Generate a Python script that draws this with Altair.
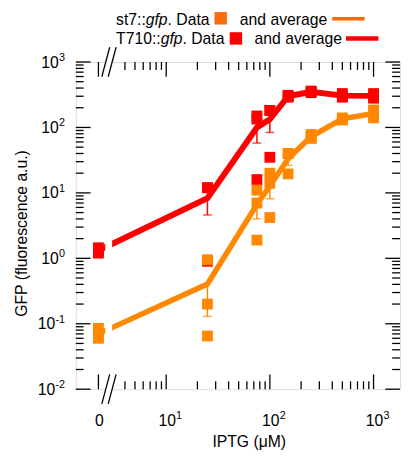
import altair as alt
import pandas as pd

# ---------------- data ----------------
IPTG = [0, 25, 75, 100, 150, 250, 500, 1000]          # µM
ST7_REP1 = [0.085, 0.95, 11.0, 20.0, 40.0, 72.0, 130.0, 185.0]
ST7_REP2 = [0.065, 0.20, 7.0, 14.0, 40.0, 78.0, 140.0, 165.0]
ST7_REP3 = [0.060, 0.065, 1.9, 4.2, 19.5, 68.0, 135.0, 140.0]
T710_REP1 = [1.45, 12.0, 134.0, 182.0, 290.0, 350.0, 330.0, 330.0]
T710_REP2 = [1.30, 12.0, 150.0, 182.0, 310.0, 340.0, 290.0, 280.0]
T710_REP3 = [1.20, 0.9, 16.0, 35.0, 300.0, 360.0, 300.0, 300.0]

X_TICK_VALUES = [0, 10, 100, 1000]
X_TICK_BASE = ["0", "10", "10", "10"]
X_TICK_EXP = ["", "1", "2", "3"]
Y_TICK_VALUES = [0.01, 0.1, 1, 10, 100, 1000]
Y_TICK_BASE = ["10", "10", "10", "10", "10", "10"]
Y_TICK_EXP = ["-2", "-1", "0", "1", "2", "3"]

ORANGE = "#FF8800"
RED = "#FF0000"

# ---------------- layout ----------------
W, H = 330, 333
ZERO_POS = 2.22                     # where "0" sits on the broken log axis
X_DOMAIN = [1.343, 1800]
Y_DOMAIN = [0.01, 1000]
FONT = "Liberation Sans"
MAJ, MIN = 15, 8
FS, ES = 16, 11                      # label font size, exponent font size

rows = []
for strain, reps in (("T710", [T710_REP1, T710_REP2, T710_REP3]),
                     ("st7", [ST7_REP1, ST7_REP2, ST7_REP3])):
    for rep in reps:
        for x, v in zip(IPTG, rep):
            rows.append({"strain": strain, "iptg": x, "gfp": v})
df = pd.DataFrame(rows)

xs = alt.Scale(type="log", domain=X_DOMAIN)
ys = alt.Scale(type="log", domain=Y_DOMAIN)

x_axis = alt.Axis(
    labels=False, ticks=False, domain=False, grid=False,
    title="IPTG (μM)", titleFontSize=16, titleFontWeight="normal", titleFont=FONT,
    titleColor="black", titleX=176, titleY=58.5, titleBaseline="alphabetic",
)
y_axis = alt.Axis(
    labels=False, ticks=False, domain=False, grid=False,
    title="GFP (fluorescence a.u.)", titleFontSize=16, titleFontWeight="normal",
    titleFont=FONT, titleColor="black", titleX=-50, titleY=174,
    titleBaseline="alphabetic", titleAngle=-90, titleAlign="center",
)


def X(field):
    return alt.X(field, type="quantitative", scale=xs, axis=x_axis)


def Y(field):
    return alt.Y(field, type="quantitative", scale=ys, axis=y_axis)


base = alt.Chart(df).transform_calculate(
    xpos=f"datum.iptg == 0 ? {ZERO_POS} : datum.iptg"
)

layers = []
for strain, color, lw in (("T710", RED, 6), ("st7", ORANGE, 5.5)):
    sub = base.transform_filter(alt.datum.strain == strain)
    agg = sub.transform_aggregate(
        mean="mean(gfp)", sem="stderr(gfp)", groupby=["xpos"]
    ).transform_calculate(lower="datum.mean - datum.sem")
    layers.append(sub.mark_square(size=121, color=color, opacity=1, filled=True)
                  .encode(x=X("xpos"), y=Y("gfp")))
    layers.append(agg.mark_line(color=color, strokeWidth=lw)
                  .encode(x=X("xpos"), y=Y("mean")))
    layers.append(agg.mark_rule(color=color, strokeWidth=1.5)
                  .encode(x=X("xpos"), y=Y("lower"), y2="mean:Q"))
    layers.append(agg.mark_tick(color=color, orient="horizontal", size=9, thickness=1.5)
                  .encode(x=X("xpos"), y=Y("lower")))

# ---------------- inward axis ticks ----------------
y_major = Y_TICK_VALUES
y_minor = [m * 10 ** e for e in range(-2, 3) for m in range(2, 10)]
x_major = [ZERO_POS if v == 0 else v for v in X_TICK_VALUES]
x_minor = [m * 10 ** e for e in range(0, 3) for m in range(2, 10) if m * 10 ** e > 3]

for vals, ln in ((y_major, MAJ), (y_minor, MIN)):
    c = alt.Chart(pd.DataFrame({"v": vals}))
    layers.append(c.mark_rule(color="black", strokeWidth=1.3)
                  .encode(y=Y("v"), x=alt.value(0), x2=alt.value(ln)))
    layers.append(c.mark_rule(color="black", strokeWidth=1.3)
                  .encode(y=Y("v"), x=alt.value(W - ln), x2=alt.value(W)))
for vals, ln in ((x_major, MAJ), (x_minor, MIN)):
    c = alt.Chart(pd.DataFrame({"v": vals}))
    layers.append(c.mark_rule(color="black", strokeWidth=1.3)
                  .encode(x=X("v"), y=alt.value(0), y2=alt.value(ln)))
    layers.append(c.mark_rule(color="black", strokeWidth=1.3)
                  .encode(x=X("v"), y=alt.value(H - ln), y2=alt.value(H)))

# ---------------- tick labels (base + superscript) ----------------
xl = alt.Chart(pd.DataFrame({"v": x_major, "b": X_TICK_BASE, "e": X_TICK_EXP}))
layers.append(xl.mark_text(align="center", baseline="alphabetic", fontSize=FS, font=FONT,
                           color="black", dx=1).encode(
    x=X("v"), y=alt.value(H + 37), text="b:N"))
layers.append(xl.mark_text(align="left", baseline="alphabetic", fontSize=ES, font=FONT,
                           color="black", dx=10).encode(
    x=X("v"), y=alt.value(H + 30.5), text="e:N"))

yl = alt.Chart(pd.DataFrame({"v": Y_TICK_VALUES, "b": Y_TICK_BASE, "e": Y_TICK_EXP})
               ).transform_calculate(n="length(datum.e)")
layers.append(yl.mark_text(align="right", baseline="alphabetic", fontSize=ES, font=FONT,
                           color="black", dy=-1).encode(
    y=Y("v"), x=alt.value(-11), text="e:N"))
for n, xpos in ((1, -17.3), (2, -21)):
    layers.append(yl.transform_filter(alt.datum.n == n).mark_text(
        align="right", baseline="alphabetic", fontSize=FS, font=FONT, color="black",
        dy=5.7).encode(y=Y("v"), x=alt.value(xpos), text="b:N"))

# ---------------- axis break ----------------
one = alt.Chart(pd.DataFrame({"k": [0]}))
layers.append(one.mark_rect(color="white").encode(
    x=alt.value(30), x2=alt.value(37), y=alt.value(-2), y2=alt.value(H + 2)))
for cy in (0, H):
    for cx in (30.5, 37):
        layers.append(one.mark_rule(color="black", strokeWidth=1.3).encode(
            x=alt.value(cx - 4), x2=alt.value(cx + 4),
            y=alt.value(cy + 15), y2=alt.value(cy - 15)))

# ---------------- legend ----------------
def txt(s, x, y, italic=False):
    return one.mark_text(align="left", baseline="alphabetic", fontSize=16, font=FONT,
                         fontStyle="italic" if italic else "normal", color="black").encode(
        x=alt.value(x), y=alt.value(y), text=alt.value(s))

layers += [
    txt("st7::", 41, -37.5), txt("gfp", 71.2, -37.5, True), txt(". Data", 93.4, -37.5),
    txt("and average", 167, -37.5),
    txt("T710::", 41, -18.3), txt("gfp", 86.4, -18.3, True), txt(". Data", 108.6, -18.3),
    txt("and average", 182, -18.3),
    one.mark_square(size=160, color="#F96B0B", opacity=1, filled=True).encode(
        x=alt.value(147.5), y=alt.value(-44.5)),
    one.mark_square(size=160, color=RED, opacity=1, filled=True).encode(
        x=alt.value(163), y=alt.value(-24)),
    one.mark_rule(color="#FF6A00", strokeWidth=3.5).encode(
        x=alt.value(261), x2=alt.value(294), y=alt.value(-44)),
    one.mark_rule(color=RED, strokeWidth=4.5).encode(
        x=alt.value(275), x2=alt.value(308), y=alt.value(-24)),
]

chart = alt.layer(*layers).properties(
    width=W, height=H,
    autosize=alt.AutoSizeParams(type="none"),
    padding={"left": 69, "top": 51, "right": 1, "bottom": 63},
).configure_view(stroke="black", strokeWidth=1.5).configure(font=FONT)

chart.save("out.html", embed_options={"renderer": "svg", "actions": False})
